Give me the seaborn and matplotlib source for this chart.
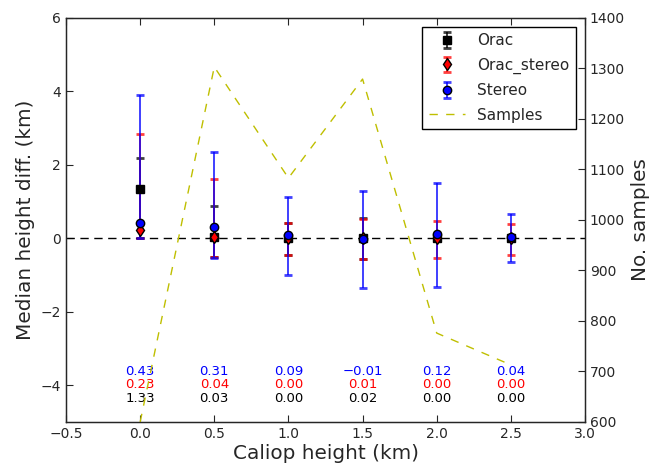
import numpy as np
import pandas as pd
import matplotlib
matplotlib.use("Agg")
import matplotlib.pyplot as plt
import seaborn as sns

# ---- data ----
heights = [0.0, 0.5, 1.0, 1.5, 2.0, 2.5]
orac_med = [1.33, 0.03, 0.00, 0.02, 0.00, 0.00]
orac_up = [2.20, 0.87, 0.41, 0.55, 0.00, 0.00]
orac_lo = [0.00, -0.50, -0.46, -0.55, 0.00, 0.00]
ost_med = [0.23, 0.04, 0.00, 0.01, 0.00, 0.00]
ost_up = [2.83, 1.62, 0.41, 0.52, 0.46, 0.38]
ost_lo = [0.00, -0.52, -0.46, -0.57, -0.54, -0.46]
st_med = [0.43, 0.31, 0.09, -0.01, 0.12, 0.04]
st_up = [3.90, 2.34, 1.12, 1.28, 1.50, 0.65]
st_lo = [0.00, -0.54, -1.00, -1.36, -1.33, -0.65]
samples = [600, 1303, 1083, 1279, 776, 713]
st_txt = ["0.43", "0.31", "0.09", "\u22120.01", "0.12", "0.04"]
ost_txt = ["0.23", "0.04", "0.00", "0.01", "0.00", "0.00"]
orac_txt = ["1.33", "0.03", "0.00", "0.02", "0.00", "0.00"]

sns.set_style("ticks")
plt.rcParams['font.family'] = ['DejaVu Sans']
plt.rcParams['xtick.direction'] = 'in'
plt.rcParams['ytick.direction'] = 'in'
plt.rcParams['xtick.top'] = True

fig = plt.figure(figsize=(6.62, 4.72), dpi=100)
ax = fig.add_axes([0.0997, 0.106, 0.7840, 0.856])

def eb(med, lo, up, fmt, color, label, ms):
    med = np.array(med); lo = np.array(lo); up = np.array(up)
    yerr = np.vstack([med - lo, up - med])
    c = ax.errorbar(heights, med, yerr=yerr, fmt=fmt, color=color, mfc=color,
                    mec='black', ms=ms, ecolor=color, elinewidth=1.4,
                    capsize=3, capthick=2, label=label, zorder=3)
    for l in c[1] + c[2]:
        l.set_alpha(0.75)
    return c

h1 = eb(orac_med, orac_lo, orac_up, 's', 'black', 'Orac', 6)
h2 = eb(ost_med, ost_lo, ost_up, 'd', 'red', 'Orac_stereo', 6)
h3 = eb(st_med, st_lo, st_up, 'o', 'blue', 'Stereo', 6)

ax.axhline(0, color='black', linestyle='--', dashes=(6, 4), lw=1, zorder=1)

for x, a, b, c in zip(heights, st_txt, ost_txt, orac_txt):
    ax.text(x, -3.62, a, color='blue', ha='center', va='center', fontsize=9.5)
    ax.text(x, -3.99, b, color='red', ha='center', va='center', fontsize=9.5)
    ax.text(x, -4.36, c, color='black', ha='center', va='center', fontsize=9.5)

ax.set_xlim(-0.5, 3.0)
ax.set_ylim(-5, 6)
ax.set_xticks(np.arange(-0.5, 3.01, 0.5))
ax.set_yticks(np.arange(-4, 6.1, 2))
ax.set_xlabel("Caliop height (km)", fontsize=14.4, labelpad=2)
ax.set_ylabel("Median height diff. (km)", fontsize=14.4)
ax.tick_params(labelsize=10, length=5, right=False)
for s in ax.spines.values():
    s.set_linewidth(1)

ax2 = ax.twinx()
df = pd.DataFrame({"h": heights, "n": samples})
sns.lineplot(data=df, x="h", y="n", ax=ax2, color=(0.75, 0.75, 0.0),
             linestyle='--', lw=1, label='Samples', legend=False)
l2 = ax2.get_lines()[0]
l2.set_dashes((6, 6))
ax2.set_ylim(600, 1400)
ax2.set_yticks(np.arange(600, 1401, 100))
ax2.set_ylabel("No. samples", fontsize=14.4)
ax2.set_xlabel("")
ax2.tick_params(labelsize=10, length=5, direction='in')
ax.set_xlim(-0.5, 3.0)

leg = ax2.legend([h1, h2, h3, l2], ['Orac', 'Orac_stereo', 'Stereo', 'Samples'],
                 loc='upper right', fontsize=11, numpoints=1, fancybox=False,
                 framealpha=1, edgecolor='black', borderaxespad=0.6,
                 labelspacing=0.62, handlelength=2.4)
leg.get_frame().set_linewidth(1)

fig.savefig("out.png", dpi=100)
